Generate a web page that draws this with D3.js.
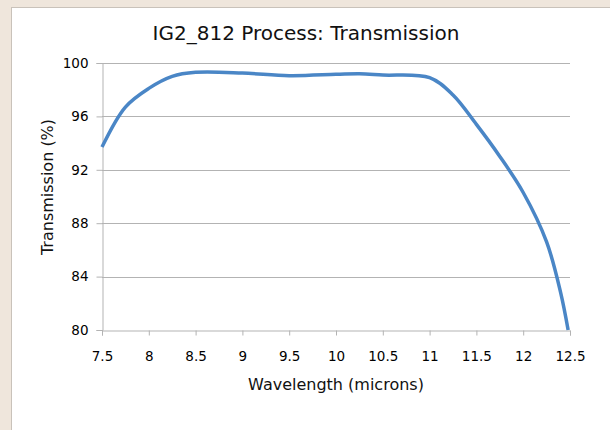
<!DOCTYPE html>
<html>
<head>
<meta charset="utf-8">
<script src="https://cdn.jsdelivr.net/npm/d3@7"></script>
<style>
  body { margin: 0; background: #efe6dc; }
  svg { display: block; font-family: "DejaVu Sans", sans-serif; }
</style>
</head>
<body>
<div id="chart"></div>
<script>
const width = 610;
const height = 430;

// data
const wavelength = [7.5, 7.75, 8.0, 8.25, 8.5, 9.0, 9.5, 10.0, 10.25, 10.5, 11.0, 11.25, 11.5, 11.75, 12.0, 12.25, 12.4, 12.48];
const transmission = [93.7, 96.7, 98.1, 99.0, 99.3, 99.25, 99.05, 99.15, 99.2, 99.1, 98.9, 97.6, 95.4, 93.0, 90.3, 86.6, 82.8, 80.0];
const xTicks = [7.5, 8, 8.5, 9, 9.5, 10, 10.5, 11, 11.5, 12, 12.5];
const yTicks = [80, 84, 88, 92, 96, 100];

const svg = d3.select('#chart').append('svg')
  .attr('width', width)
  .attr('height', height);

// white panel
svg.append('rect')
  .attr('x', 11.5).attr('y', 7.5)
  .attr('width', 620).attr('height', 440)
  .style('fill', '#fff')
  .style('stroke', '#c9c2ba');

const x = d3.scaleLinear().domain([7.5, 12.5]).range([102, 570]);
const y = d3.scaleLinear().domain([80, 100]).range([330, 63]);

// grid
svg.append('g').selectAll('line')
  .data(yTicks.filter(d => d > 80))
  .join('line')
  .attr('x1', x(7.5)).attr('x2', x(12.5))
  .attr('y1', d => Math.round(y(d)) + 0.5).attr('y2', d => Math.round(y(d)) + 0.5)
  .style('stroke', '#b3b3b3');

const xAxis = svg.append('g')
  .attr('transform', `translate(0, ${Math.round(y(80)) + 0.5})`)
  .call(d3.axisBottom(x).tickValues(xTicks).tickFormat(d => d).tickSize(5).tickPadding(16));

const yAxis = svg.append('g')
  .attr('transform', `translate(${Math.round(x(7.5)) + 0.5}, 0)`)
  .call(d3.axisLeft(y).tickValues(yTicks).tickSize(6).tickPadding(8));

[xAxis, yAxis].forEach(a => {
  a.select('.domain').style('stroke', '#b3b3b3');
  a.selectAll('.tick line').style('stroke', '#b3b3b3');
  a.selectAll('text').style('font-size', '13.5px').style('fill', '#000')
    .style('font-family', '"DejaVu Sans", sans-serif');
});

const line = d3.line()
  .x((d, i) => x(wavelength[i]))
  .y(d => y(d))
  .curve(d3.curveCatmullRom.alpha(0.5));

svg.append('path')
  .attr('d', line(transmission))
  .style('fill', 'none')
  .style('stroke', '#4a86c6')
  .style('stroke-width', 3.5)
  .style('stroke-linejoin', 'round');

svg.append('text')
  .attr('x', 306).attr('y', 40)
  .attr('text-anchor', 'middle')
  .style('font-size', '20px')
  .style('fill', '#111')
  .text('IG2_812 Process: Transmission');

svg.append('text')
  .attr('x', 336).attr('y', 390)
  .attr('text-anchor', 'middle')
  .style('font-size', '16px')
  .style('fill', '#111')
  .text('Wavelength (microns)');

svg.append('text')
  .attr('transform', 'translate(53, 187) rotate(-90)')
  .attr('text-anchor', 'middle')
  .style('font-size', '16px')
  .style('fill', '#111')
  .text('Transmission (%)');
</script>
</body>
</html>
